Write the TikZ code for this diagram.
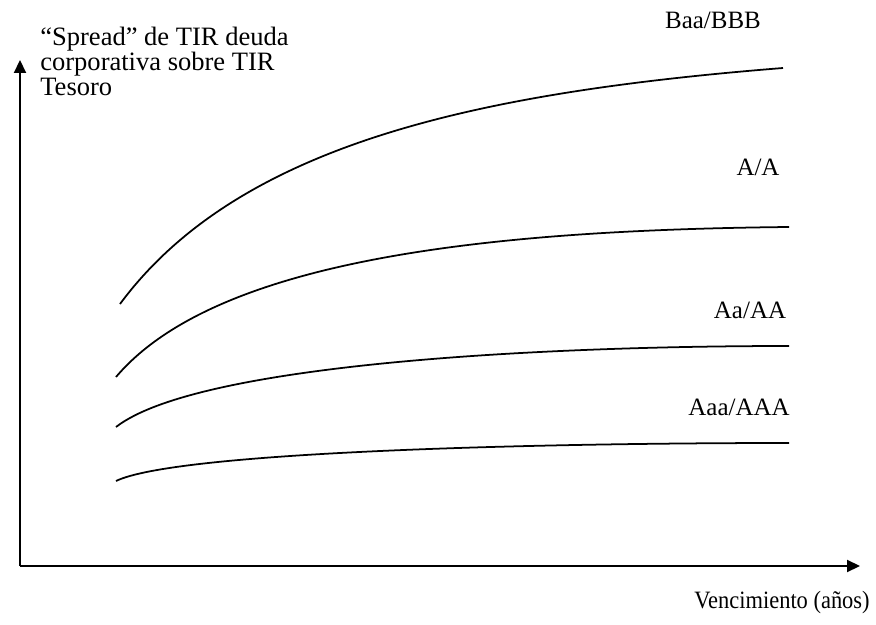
\documentclass[tikz,border=0pt]{standalone}
\usepackage{fontspec}
\usepackage{graphicx}
\setmainfont{Liberation Serif}
\usetikzlibrary{arrows.meta,positioning}

\begin{document}
\begin{tikzpicture}[x=0.02cm,y=-0.02cm,
  rotulo/.style={font=\fontsize{14.2}{14.5}\selectfont,inner sep=0pt},
  eje/.style={line width=1.2pt,-{Triangle[length=0.26cm,width=0.24cm]}},
  curva/.style={line width=1pt}]
\useasboundingbox (0,0) rectangle (876,625);
% ejes
\coordinate (origen) at (20,566);
\coordinate (ytope) at (20,60);
\coordinate (xfin) at (860,566);
\draw[eje] (origen) -- (ytope);
\draw[eje] (origen) -- (xfin);
\node[rotulo,font=\fontsize{15.1}{14.5}\selectfont,anchor=base west,align=left] (spread) at (40,96) {``Spread'' de TIR deuda\\corporativa sobre TIR\\Tesoro};
\node[rotulo,anchor=base east] (venc) at (870,608) {\scalebox{0.9}[1]{Vencimiento (años)}};
% curvas por calificacion
\draw[curva] (120,304) .. controls (240,142) and (483,92) .. (783,68);
\draw[curva] (116,377) .. controls (216,259) and (489,230) .. (789,227);
\draw[curva] (116,427) .. controls (196,365) and (529,346) .. (789,346);
\draw[curva] (116,481) .. controls (176,452) and (529,443) .. (789,443);
\node[rotulo,anchor=base] (baa) at (713,29) {Baa/BBB};
\node[rotulo,anchor=base] (a) at (758,175) {A/A};
\node[rotulo,anchor=base] (aa) at (750,318) {Aa/AA};
\node[rotulo,anchor=base] (aaa) at (739,415) {Aaa/AAA};
\end{tikzpicture}
\end{document}
